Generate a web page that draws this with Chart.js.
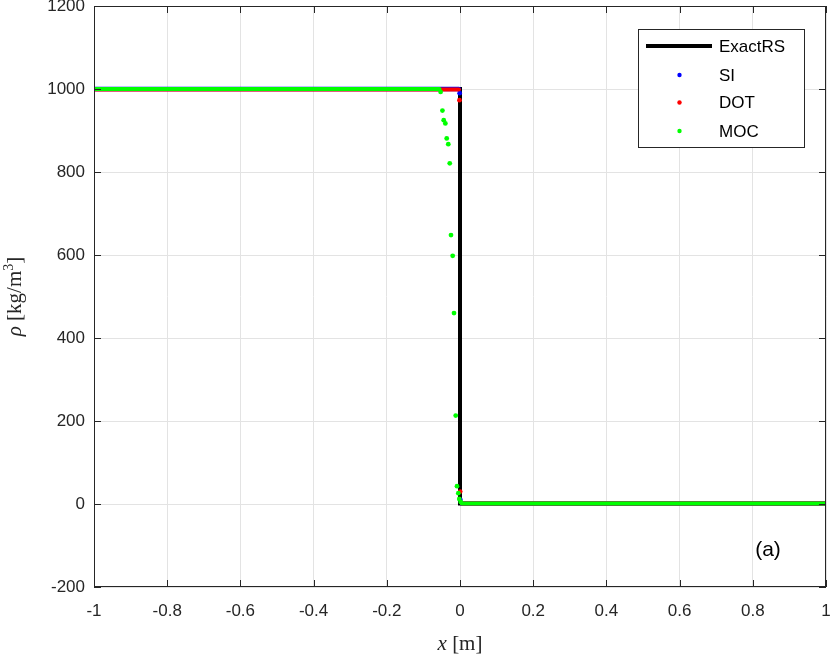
<!DOCTYPE html>
<html>
<head>
<meta charset="utf-8">
<script src="https://cdn.jsdelivr.net/npm/chart.js@4.4.1/dist/chart.umd.min.js"></script>
<style>
  body { margin: 0; background: #fff; }
  canvas { display: block; }
</style>
</head>
<body>
<canvas id="rhoChart" width="830" height="655" style="width:830px;height:655px"></canvas>
<script>
// ---- data ----
const xTickVals = [-1, -0.8, -0.6, -0.4, -0.2, 0, 0.2, 0.4, 0.6, 0.8, 1];
const yTickVals = [-200, 0, 200, 400, 600, 800, 1000, 1200];

// exact Riemann solver (solid line)
const exactX = [-1, 0, 0, 1];
const exactY = [1000, 1000, 1, 1];

// SI: dense dots on the flats + a few near the jump
const siLeftX = [-1, -0.003];
const siLeftY = [1000, 1000];
const siStepX = [-0.001, 0.001];
const siStepY = [990, 10];
const siRightX = [0.005, 1];
const siRightY = [1, 1];

// DOT
const dotLeftX = [-1, -0.003];
const dotLeftY = [999, 999];
const dotStepX = [-0.0015, 0.0005];
const dotStepY = [973, 30];
const dotRightX = [0.005, 1];
const dotRightY = [1, 1];

// MOC
const mocLeftX = [-1, -0.056];
const mocLeftY = [1000, 1000];
const mocStepX = [-0.053, -0.048, -0.0445, -0.040, -0.0363, -0.032, -0.028, -0.0246, -0.020, -0.0164, -0.0117, -0.0082, -0.0046, -0.002, 0.002];
const mocStepY = [993, 948, 925, 917, 881, 867, 821, 648, 598, 460, 213, 43, 26, 12, 5];
const mocRightX = [0.005, 1];
const mocRightY = [1, 1];

const pts = (xs, ys) => xs.map((x, i) => ({ x: x, y: ys[i] }));

const lineSet = (label, xs, ys, color, w, order) => ({
  label: label, data: pts(xs, ys), showLine: true, pointRadius: 0,
  borderColor: color, backgroundColor: color, borderWidth: w,
  borderCapStyle: 'round', order: order
});
const dotSet = (label, xs, ys, color, order) => ({
  label: label, data: pts(xs, ys), showLine: false, pointRadius: 2.4,
  pointBorderWidth: 0, backgroundColor: color, borderColor: color, order: order
});

const legendItems = [
  { text: 'ExactRS', color: '#000000', line: true },
  { text: 'SI', color: '#0000ff' },
  { text: 'DOT', color: '#ff0000' },
  { text: 'MOC', color: '#00ff00' }
];

const axisColor = '#262626';

const figurePlugin = {
  id: 'figure',
  afterDraw(chart) {
    const ctx = chart.ctx;
    const a = chart.chartArea;
    const xs = chart.scales.x, ys = chart.scales.y;
    ctx.save();
    ctx.strokeStyle = axisColor;
    ctx.lineWidth = 1;
    // inner ticks
    ctx.beginPath();
    xTickVals.forEach(v => {
      const px = Math.round(xs.getPixelForValue(v)) + 0.5;
      ctx.moveTo(px, a.bottom); ctx.lineTo(px, a.bottom - 7);
      ctx.moveTo(px, a.top); ctx.lineTo(px, a.top + 7);
    });
    yTickVals.forEach(v => {
      const py = Math.round(ys.getPixelForValue(v)) + 0.5;
      ctx.moveTo(a.left, py); ctx.lineTo(a.left + 7, py);
      ctx.moveTo(a.right, py); ctx.lineTo(a.right - 7, py);
    });
    ctx.stroke();
    // box
    ctx.strokeRect(Math.round(a.left) + 0.5, Math.round(a.top) + 0.5,
      Math.round(a.right - a.left) - 1, Math.round(a.bottom - a.top) - 1);

    // legend
    const lx = 638.5, ly = 29.5, lw = 166, lh = 118;
    ctx.fillStyle = '#fff';
    ctx.fillRect(lx, ly, lw, lh);
    ctx.strokeRect(lx, ly, lw, lh);
    const rows = [46, 75, 102.5, 131];
    ctx.font = '17px "Liberation Sans", Arial, sans-serif';
    ctx.textBaseline = 'middle';
    legendItems.forEach((it, i) => {
      const y = rows[i];
      if (it.line) {
        ctx.strokeStyle = it.color; ctx.lineWidth = 4;
        ctx.beginPath(); ctx.moveTo(646, y); ctx.lineTo(712, y); ctx.stroke();
      } else {
        ctx.fillStyle = it.color;
        ctx.beginPath(); ctx.arc(679.5, y, 2.2, 0, Math.PI * 2); ctx.fill();
      }
      ctx.fillStyle = '#000';
      ctx.textAlign = 'left';
      ctx.fillText(it.text, 719, y + 1);
    });

    // panel tag
    ctx.fillStyle = '#000';
    ctx.font = '21px "Liberation Sans", Arial, sans-serif';
    ctx.textAlign = 'center';
    ctx.fillText('(a)', 768, 550);

    // axis titles (serif, italic symbol)
    const it = 'italic 21px "Liberation Serif", "DejaVu Serif", serif';
    const rm = '21px "Liberation Serif", "DejaVu Serif", serif';
    const drawParts = (parts, cx, cy) => {
      let total = 0;
      parts.forEach(p => { ctx.font = p.f; total += ctx.measureText(p.t).width; });
      let x = cx - total / 2;
      ctx.textAlign = 'left';
      parts.forEach(p => {
        ctx.font = p.f;
        ctx.fillText(p.t, x, cy + (p.dy || 0));
        x += ctx.measureText(p.t).width;
      });
    };
    ctx.fillStyle = axisColor;
    ctx.textBaseline = 'alphabetic';
    drawParts([{ t: 'x', f: it }, { t: ' [m]', f: rm }], (a.left + a.right) / 2, 650);
    ctx.save();
    ctx.translate(21, (a.top + a.bottom) / 2);
    ctx.rotate(-Math.PI / 2);
    drawParts([{ t: 'ρ', f: it }, { t: ' [kg/m', f: rm },
      { t: '3', f: '14px "Liberation Serif", serif', dy: -8 }, { t: ']', f: rm }], 0, 0);
    ctx.restore();
    ctx.restore();
  }
};

const fmt = v => String(Math.round(v * 10) / 10);
const noPad = s => { s.paddingTop = 0; s.paddingBottom = 0; s.paddingLeft = 0; s.paddingRight = 0; };

new Chart(document.getElementById('rhoChart').getContext('2d'), {
  type: 'scatter',
  data: {
    datasets: [
      lineSet('ExactRS', exactX, exactY, '#000000', 4, 9),
      lineSet('SI', siLeftX, siLeftY, '#0000ff', 4.4, 6),
      dotSet('SI', siStepX, siStepY, '#0000ff', 5),
      lineSet('SI', siRightX, siRightY, '#0000ff', 4.4, 6),
      lineSet('DOT', dotLeftX, dotLeftY, '#ff0000', 4, 4),
      dotSet('DOT', dotStepX, dotStepY, '#ff0000', 3),
      lineSet('DOT', dotRightX, dotRightY, '#ff0000', 4, 4),
      lineSet('MOC', mocLeftX, mocLeftY, '#00ff00', 4, 2),
      dotSet('MOC', mocStepX, mocStepY, '#00ff00', 1),
      lineSet('MOC', mocRightX, mocRightY, '#00ff00', 4, 2)
    ]
  },
  options: {
    responsive: false,
    animation: false,
    layout: { padding: { top: 6, right: 4, left: 0, bottom: 0 }, autoPadding: false },
    plugins: { legend: { display: false }, tooltip: { enabled: false } },
    scales: {
      x: {
        type: 'linear', min: -1, max: 1,
        afterFit: s => { s.height = 68; noPad(s); },
        afterBuildTicks: s => { s.ticks = xTickVals.map(v => ({ value: v })); },
        grid: { color: '#e3e3e3', drawTicks: false },
        border: { display: false },
        ticks: { callback: fmt, padding: 14, maxRotation: 0, autoSkip: false,
          color: axisColor, font: { family: '"Liberation Sans", Arial, sans-serif', size: 17 } }
      },
      y: {
        type: 'linear', min: -200, max: 1200,
        afterFit: s => { s.width = 94; noPad(s); },
        afterBuildTicks: s => { s.ticks = yTickVals.map(v => ({ value: v })); },
        grid: { color: '#e3e3e3', drawTicks: false },
        border: { display: false },
        ticks: { callback: fmt, padding: 9, color: axisColor,
          font: { family: '"Liberation Sans", Arial, sans-serif', size: 17 } }
      }
    }
  },
  plugins: [figurePlugin]
});
</script>
</body>
</html>
